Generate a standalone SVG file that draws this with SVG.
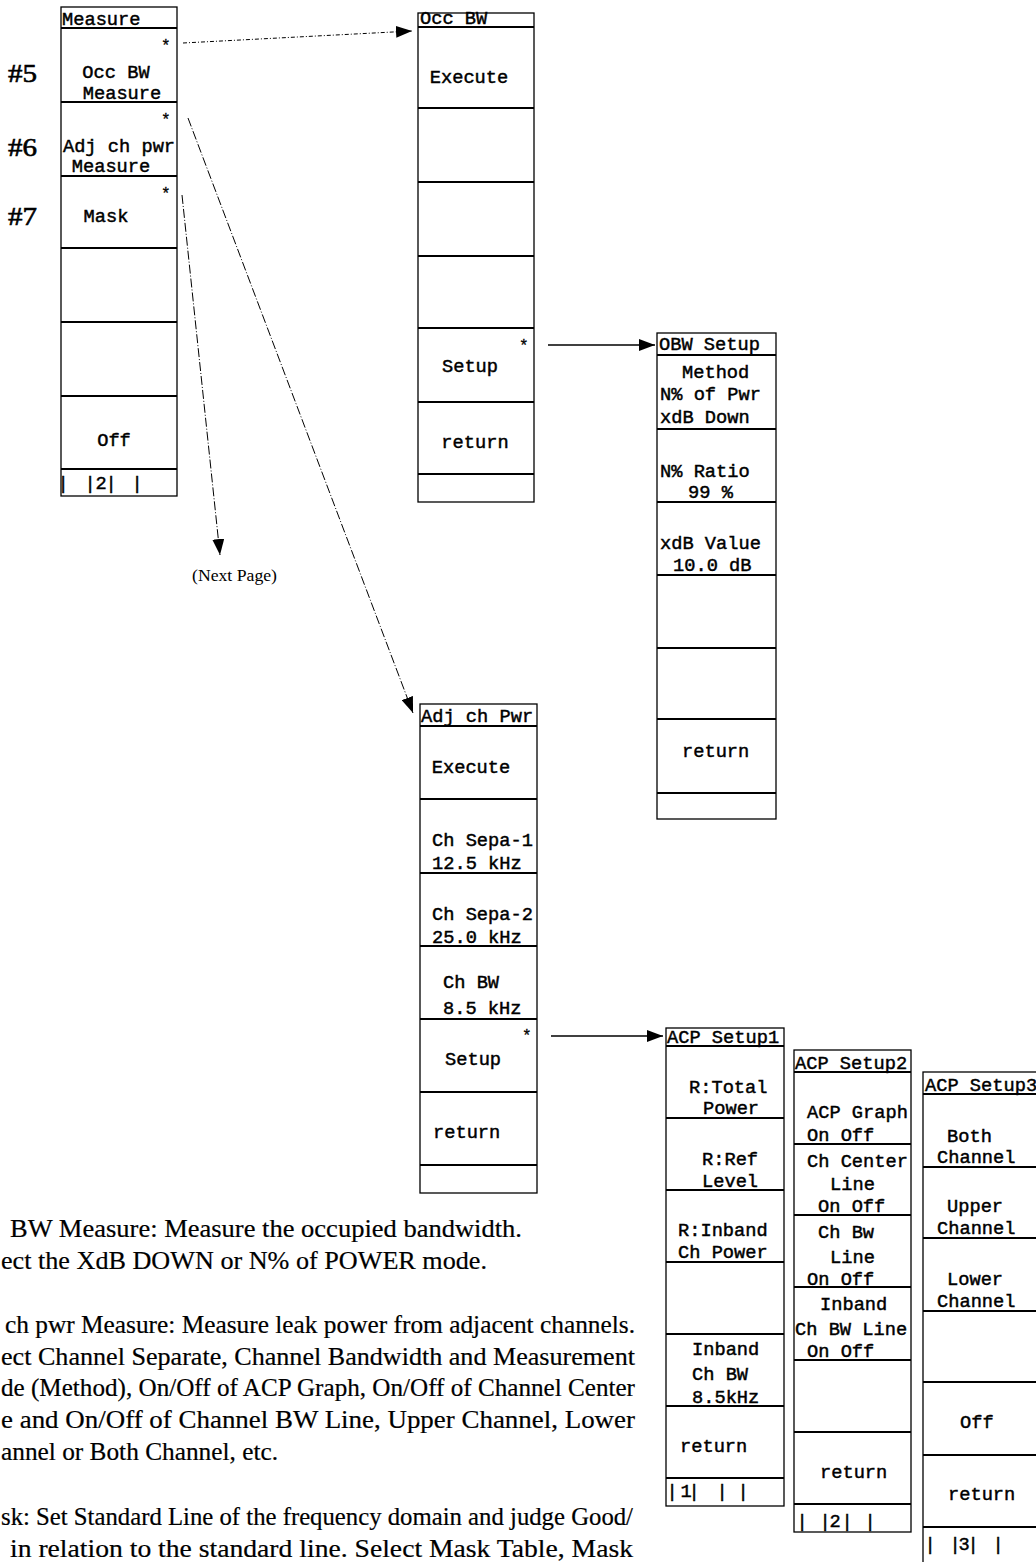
<svg xmlns="http://www.w3.org/2000/svg" width="1036" height="1562" viewBox="0 0 1036 1562">
<style>
.box{fill:#fff;stroke:#000;stroke-width:1.3}
.sep{stroke:#000;stroke-width:2}
.m{font-family:"Liberation Mono","Courier New",monospace;font-size:18.7px;fill:#000;stroke:#000;stroke-width:0.45}
.c{text-anchor:middle}
.ast{font-family:"Liberation Mono","Courier New",monospace;font-size:16px;fill:#000;stroke:#000;stroke-width:0.3}
.s{font-family:"Liberation Serif","Times New Roman",serif;font-size:24.5px;fill:#000;stroke:#000;stroke-width:0.2}
.num{font-family:"Liberation Serif","Times New Roman",serif;font-size:25px;fill:#000;stroke:#000;stroke-width:0.6}
.np{font-family:"Liberation Serif","Times New Roman",serif;font-size:17px;fill:#000}
.dot{fill:none;stroke:#000;stroke-width:1;stroke-dasharray:4 2 1 2}
.dd{fill:none;stroke:#000;stroke-width:1;stroke-dasharray:9 2 1 2}
.sol{fill:none;stroke:#000;stroke-width:1.5}
</style>
<defs>
<marker id="ah" viewBox="0 0 16 12" markerWidth="16" markerHeight="12" refX="16" refY="6" orient="auto" markerUnits="userSpaceOnUse">
<path d="M0,0 L16,6 L0,12 z" fill="#000"/>
</marker>
</defs>

<g id="connectors">
<line class="dot" x1="183" y1="43" x2="412" y2="31" marker-end="url(#ah)"/>
<line class="dd" x1="188" y1="118" x2="413" y2="713" marker-end="url(#ah)"/>
<line class="dd" x1="182" y1="195" x2="220" y2="555" marker-end="url(#ah)"/>
<line class="sol" x1="548" y1="345" x2="655" y2="345" marker-end="url(#ah)"/>
<line class="sol" x1="551" y1="1036" x2="663" y2="1036" marker-end="url(#ah)"/>
</g>

<g id="labels">
<text class="num" x="8" y="82" textLength="29" lengthAdjust="spacingAndGlyphs">#5</text>
<text class="num" x="8" y="156" textLength="29" lengthAdjust="spacingAndGlyphs">#6</text>
<text class="num" x="8" y="225" textLength="29" lengthAdjust="spacingAndGlyphs">#7</text>
<text class="np" x="192" y="581" textLength="85" lengthAdjust="spacingAndGlyphs">(Next Page)</text>
</g>

<g id="measure">
<rect class="box" x="61" y="7" width="116" height="489"/>
<line class="sep" x1="61" y1="28" x2="177" y2="28"/>
<line class="sep" x1="61" y1="102" x2="177" y2="102"/>
<line class="sep" x1="61" y1="176" x2="177" y2="176"/>
<line class="sep" x1="61" y1="248" x2="177" y2="248"/>
<line class="sep" x1="61" y1="322" x2="177" y2="322"/>
<line class="sep" x1="61" y1="396" x2="177" y2="396"/>
<line class="sep" x1="61" y1="469" x2="177" y2="469"/>
<text class="m" x="62" y="25">Measure</text>
<text class="ast" x="161" y="51">*</text>
<text class="m c" x="116" y="78">Occ BW</text>
<text class="m c" x="122" y="99">Measure</text>
<text class="ast" x="161" y="125">*</text>
<text class="m c" x="119" y="152">Adj ch pwr</text>
<text class="m c" x="111" y="172">Measure</text>
<text class="ast" x="161" y="199">*</text>
<text class="m c" x="106" y="222">Mask</text>
<text class="m c" x="114" y="446">Off</text>
<text class="m c" x="63 90 101 111 137" y="489">||2||</text>
</g>

<g id="occbw">
<rect class="box" x="418" y="13" width="116" height="489"/>
<line class="sep" x1="418" y1="27" x2="534" y2="27"/>
<line class="sep" x1="418" y1="108" x2="534" y2="108"/>
<line class="sep" x1="418" y1="182" x2="534" y2="182"/>
<line class="sep" x1="418" y1="256" x2="534" y2="256"/>
<line class="sep" x1="418" y1="328" x2="534" y2="328"/>
<line class="sep" x1="418" y1="402" x2="534" y2="402"/>
<line class="sep" x1="418" y1="474" x2="534" y2="474"/>
<text class="m" x="420" y="24">Occ BW</text>
<text class="m c" x="469" y="83">Execute</text>
<text class="ast" x="519" y="351">*</text>
<text class="m c" x="470" y="372">Setup</text>
<text class="m c" x="475" y="448">return</text>
</g>

<g id="obwsetup">
<rect class="box" x="657" y="333" width="119" height="486"/>
<line class="sep" x1="657" y1="355" x2="776" y2="355"/>
<line class="sep" x1="657" y1="429" x2="776" y2="429"/>
<line class="sep" x1="657" y1="502" x2="776" y2="502"/>
<line class="sep" x1="657" y1="575" x2="776" y2="575"/>
<line class="sep" x1="657" y1="648" x2="776" y2="648"/>
<line class="sep" x1="657" y1="719" x2="776" y2="719"/>
<line class="sep" x1="657" y1="793" x2="776" y2="793"/>
<text class="m" x="659" y="350">OBW Setup</text>
<text class="m" x="682" y="378">Method</text>
<text class="m" x="660" y="400">N% of Pwr</text>
<text class="m" x="660" y="423">xdB Down</text>
<text class="m" x="660" y="477">N% Ratio</text>
<text class="m" x="688" y="498">99 %</text>
<text class="m" x="660" y="549">xdB Value</text>
<text class="m" x="673" y="571">10.0 dB</text>
<text class="m" x="682" y="757">return</text>
</g>

<g id="adjchpwr">
<rect class="box" x="420" y="704" width="117" height="489"/>
<line class="sep" x1="420" y1="726" x2="537" y2="726"/>
<line class="sep" x1="420" y1="799" x2="537" y2="799"/>
<line class="sep" x1="420" y1="873" x2="537" y2="873"/>
<line class="sep" x1="420" y1="946" x2="537" y2="946"/>
<line class="sep" x1="420" y1="1019" x2="537" y2="1019"/>
<line class="sep" x1="420" y1="1092" x2="537" y2="1092"/>
<line class="sep" x1="420" y1="1165" x2="537" y2="1165"/>
<text class="m" x="421" y="722">Adj ch Pwr</text>
<text class="m c" x="471" y="773">Execute</text>
<text class="m" x="432" y="846">Ch Sepa-1</text>
<text class="m" x="432" y="869">12.5 kHz</text>
<text class="m" x="432" y="920">Ch Sepa-2</text>
<text class="m" x="432" y="943">25.0 kHz</text>
<text class="m" x="443" y="988">Ch BW</text>
<text class="m" x="443" y="1014">8.5 kHz</text>
<text class="ast" x="522" y="1041">*</text>
<text class="m" x="445" y="1065">Setup</text>
<text class="m" x="433" y="1138">return</text>
</g>

<g id="acpsetup1">
<rect class="box" x="666" y="1028" width="118" height="478"/>
<line class="sep" x1="666" y1="1046" x2="784" y2="1046"/>
<line class="sep" x1="666" y1="1118" x2="784" y2="1118"/>
<line class="sep" x1="666" y1="1190" x2="784" y2="1190"/>
<line class="sep" x1="666" y1="1262" x2="784" y2="1262"/>
<line class="sep" x1="666" y1="1334" x2="784" y2="1334"/>
<line class="sep" x1="666" y1="1406" x2="784" y2="1406"/>
<line class="sep" x1="666" y1="1478" x2="784" y2="1478"/>
<text class="m" x="667" y="1043">ACP Setup1</text>
<text class="m" x="689" y="1093">R:Total</text>
<text class="m" x="703" y="1114">Power</text>
<text class="m" x="702" y="1165">R:Ref</text>
<text class="m" x="702" y="1187">Level</text>
<text class="m" x="678" y="1236">R:Inband</text>
<text class="m" x="678" y="1258">Ch Power</text>
<text class="m" x="692" y="1355">Inband</text>
<text class="m" x="692" y="1380">Ch BW</text>
<text class="m" x="692" y="1403">8.5kHz</text>
<text class="m" x="680" y="1452">return</text>
<text class="m c" x="672 686 694 722 743" y="1497">|1|||</text>
</g>

<g id="acpsetup2">
<rect class="box" x="794" y="1050" width="117" height="482"/>
<line class="sep" x1="794" y1="1072" x2="911" y2="1072"/>
<line class="sep" x1="794" y1="1144" x2="911" y2="1144"/>
<line class="sep" x1="794" y1="1215" x2="911" y2="1215"/>
<line class="sep" x1="794" y1="1287" x2="911" y2="1287"/>
<line class="sep" x1="794" y1="1360" x2="911" y2="1360"/>
<line class="sep" x1="794" y1="1432" x2="911" y2="1432"/>
<line class="sep" x1="794" y1="1504" x2="911" y2="1504"/>
<text class="m" x="795" y="1069">ACP Setup2</text>
<text class="m" x="807" y="1118">ACP Graph</text>
<text class="m" x="807" y="1141">On   Off</text>
<text class="m" x="807" y="1167">Ch Center</text>
<text class="m" x="830" y="1190">Line</text>
<text class="m" x="818" y="1212">On  Off</text>
<text class="m" x="818" y="1238">Ch Bw</text>
<text class="m" x="830" y="1263">Line</text>
<text class="m" x="807" y="1285">On  Off</text>
<text class="m" x="820" y="1310">Inband</text>
<text class="m" x="795" y="1335">Ch BW Line</text>
<text class="m" x="807" y="1357">On  Off</text>
<text class="m" x="820" y="1478">return</text>
<text class="m c" x="802 825 835 847 870" y="1527">||2||</text>
</g>

<g id="acpsetup3">
<rect class="box" x="923" y="1072" width="120" height="500"/>
<line class="sep" x1="923" y1="1094" x2="1043" y2="1094"/>
<line class="sep" x1="923" y1="1167" x2="1043" y2="1167"/>
<line class="sep" x1="923" y1="1238" x2="1043" y2="1238"/>
<line class="sep" x1="923" y1="1311" x2="1043" y2="1311"/>
<line class="sep" x1="923" y1="1382" x2="1043" y2="1382"/>
<line class="sep" x1="923" y1="1455" x2="1043" y2="1455"/>
<line class="sep" x1="923" y1="1527" x2="1043" y2="1527"/>
<text class="m" x="925" y="1091">ACP Setup3</text>
<text class="m" x="947" y="1142">Both</text>
<text class="m" x="937" y="1163">Channel</text>
<text class="m" x="947" y="1212">Upper</text>
<text class="m" x="937" y="1234">Channel</text>
<text class="m" x="947" y="1285">Lower</text>
<text class="m" x="937" y="1307">Channel</text>
<text class="m" x="960" y="1428">Off</text>
<text class="m" x="948" y="1500">return</text>
<text class="m c" x="930 955 964 973 998" y="1550">||3||</text>
</g>

<g id="description">
<text class="s" x="10" y="1237" textLength="512" lengthAdjust="spacingAndGlyphs">BW Measure: Measure the occupied bandwidth.</text>
<text class="s" x="1" y="1269" textLength="486" lengthAdjust="spacingAndGlyphs">ect the XdB DOWN or N% of POWER mode.</text>
<text class="s" x="5" y="1333" textLength="630" lengthAdjust="spacingAndGlyphs">ch pwr Measure: Measure leak power from adjacent channels.</text>
<text class="s" x="1" y="1365" textLength="634" lengthAdjust="spacingAndGlyphs">ect Channel Separate, Channel Bandwidth and Measurement</text>
<text class="s" x="1" y="1396" textLength="634" lengthAdjust="spacingAndGlyphs">de (Method), On/Off of ACP Graph, On/Off of Channel Center</text>
<text class="s" x="1" y="1428" textLength="634" lengthAdjust="spacingAndGlyphs">e and On/Off of Channel BW Line, Upper Channel, Lower</text>
<text class="s" x="1" y="1460" textLength="277" lengthAdjust="spacingAndGlyphs">annel or Both Channel, etc.</text>
<text class="s" x="1" y="1525" textLength="632" lengthAdjust="spacingAndGlyphs">sk: Set Standard Line of the frequency domain and judge Good/</text>
<text class="s" x="10" y="1557" textLength="623" lengthAdjust="spacingAndGlyphs">in relation to the standard line.  Select Mask Table, Mask</text>
</g>
</svg>
